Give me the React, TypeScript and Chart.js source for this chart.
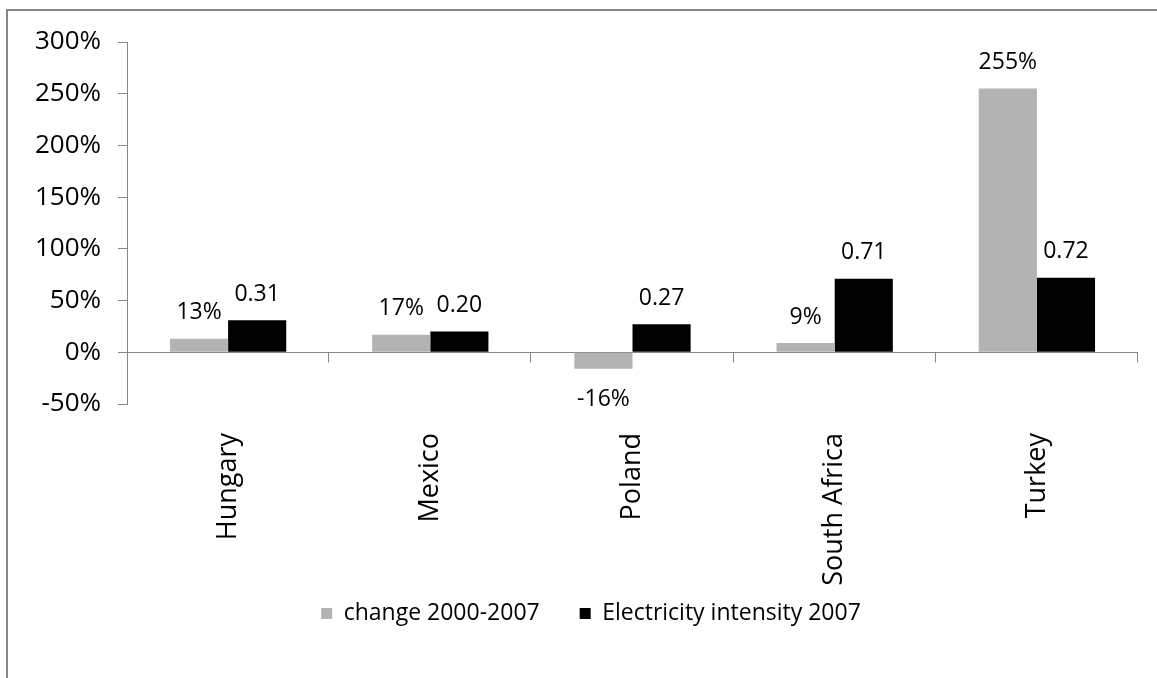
import React, { useEffect, useRef } from "react";
import { Chart, registerables } from "chart.js";

Chart.register(...registerables);

// Chart data
const countries = ["Hungary", "Mexico", "Poland", "South Africa", "Turkey"];
const change2000to2007 = [0.13, 0.17, -0.16, 0.09, 2.55];
const electricityIntensity2007 = [0.31, 0.2, 0.27, 0.71, 0.72];
const seriesNames = ["change 2000-2007", "Electricity intensity 2007"];
const yTickValues = [-0.5, 0, 0.5, 1, 1.5, 2, 2.5, 3];

const FONT = "'Open Sans', 'Noto Sans', sans-serif";
const AXIS_COLOR = "#868686";
const GRAY_BAR = "#b3b3b3";
const BLACK_BAR = "#000000";

const pct = (v: number) => `${Math.round(v * 100)}%`;

// Lets the long rotated category labels hang past the axis box and
// centres the legend under the framed area.
const layoutTweaksPlugin = {
  id: "layoutTweaks",
  afterLayout(chart: any) {
    const x = chart.scales.x;
    x.bottom = x.top + 220;
    if (chart.legend) {
      chart.legend.left += 22;
      chart.legend.right += 22;
    }
  },
};

// Horizontal axis line at zero with category separator tick marks
const zeroAxisPlugin = {
  id: "zeroAxis",
  beforeDatasetsDraw(chart: any) {
    const { ctx, chartArea, scales } = chart;
    const x = scales.x;
    const y = scales.y;
    const y0 = Math.round(y.getPixelForValue(0)) + 0.5;
    ctx.save();
    ctx.strokeStyle = AXIS_COLOR;
    ctx.lineWidth = 1;
    ctx.beginPath();
    ctx.moveTo(chartArea.left, y0);
    ctx.lineTo(chartArea.right, y0);
    for (let i = 0; i < countries.length; i++) {
      const bx =
        i < countries.length - 1
          ? (x.getPixelForValue(i) + x.getPixelForValue(i + 1)) / 2
          : chartArea.right;
      const px = Math.round(bx) - 0.5;
      ctx.moveTo(px, y0);
      ctx.lineTo(px, y0 + 10);
    }
    ctx.stroke();
    ctx.restore();
  },
};

// Value labels above (or below, for negatives) each bar
const valueLabelPlugin = {
  id: "valueLabels",
  afterDatasetsDraw(chart: any) {
    const { ctx } = chart;
    ctx.save();
    ctx.font = `23px ${FONT}`;
    ctx.fillStyle = "#000";
    ctx.textAlign = "center";
    ctx.textBaseline = "middle";
    chart.data.datasets.forEach((ds: any, di: number) => {
      const meta = chart.getDatasetMeta(di);
      meta.data.forEach((bar: any, i: number) => {
        const v = ds.data[i] as number;
        const text = di === 0 ? pct(v) : v.toFixed(2);
        const ty = v >= 0 ? bar.y - 26 : bar.y + 31;
        ctx.fillText(text, bar.x, ty);
      });
    });
    ctx.restore();
  },
};

export default function App() {
  const canvasRef = useRef<HTMLCanvasElement | null>(null);

  useEffect(() => {
    const canvas = canvasRef.current;
    if (!canvas) return;
    const chart = new Chart(canvas, {
      type: "bar",
      data: {
        labels: countries,
        datasets: [
          {
            label: seriesNames[0],
            data: change2000to2007,
            backgroundColor: GRAY_BAR,
            borderWidth: 0,
            categoryPercentage: 0.575,
            barPercentage: 1,
          },
          {
            label: seriesNames[1],
            data: electricityIntensity2007,
            backgroundColor: BLACK_BAR,
            borderWidth: 0,
            categoryPercentage: 0.575,
            barPercentage: 1,
          },
        ],
      },
      options: {
        responsive: false,
        animation: false,
        devicePixelRatio: 1,
        layout: { padding: { top: 42, right: 19, bottom: 43, left: 0 } },
        plugins: {
          tooltip: { enabled: false },
          legend: {
            position: "bottom",
            labels: {
              boxWidth: 11,
              boxHeight: 11,
              padding: 40,
              color: "#000",
              font: { family: FONT, size: 23 },
            },
          },
        },
        scales: {
          x: {
            grid: { display: false, drawTicks: false },
            border: { display: false },
            ticks: {
              minRotation: 90,
              maxRotation: 90,
              padding: 29,
              color: "#000",
              font: { family: FONT, size: 27 },
            },
            afterFit: (s: any) => {
              s.height = 158;
            },
          },
          y: {
            min: -0.5,
            max: 3,
            afterBuildTicks: (s: any) => {
              s.ticks = yTickValues.map((v) => ({ value: v }));
            },
            grid: {
              drawOnChartArea: false,
              tickLength: 9,
              color: AXIS_COLOR,
            },
            border: { display: true, color: AXIS_COLOR, width: 1 },
            ticks: {
              padding: 17,
              color: "#000",
              font: { family: FONT, size: 26 },
              callback: (v: any) => pct(Number(v)),
            },
            afterFit: (s: any) => {
              s.width = 127;
            },
          },
        },
      },
      plugins: [layoutTweaksPlugin, zeroAxisPlugin, valueLabelPlugin],
    });
    return () => chart.destroy();
  }, []);

  return (
    <div>
      <div
        style={{
          position: "fixed",
          left: 6,
          top: 9,
          width: 1200,
          height: 720,
          border: `2px solid ${AXIS_COLOR}`,
          background: "#fff",
        }}
      />
      <canvas
        ref={canvasRef}
        width={1157}
        height={678}
        style={{ position: "fixed", left: 0, top: 0, display: "block" }}
      />
    </div>
  );
}
